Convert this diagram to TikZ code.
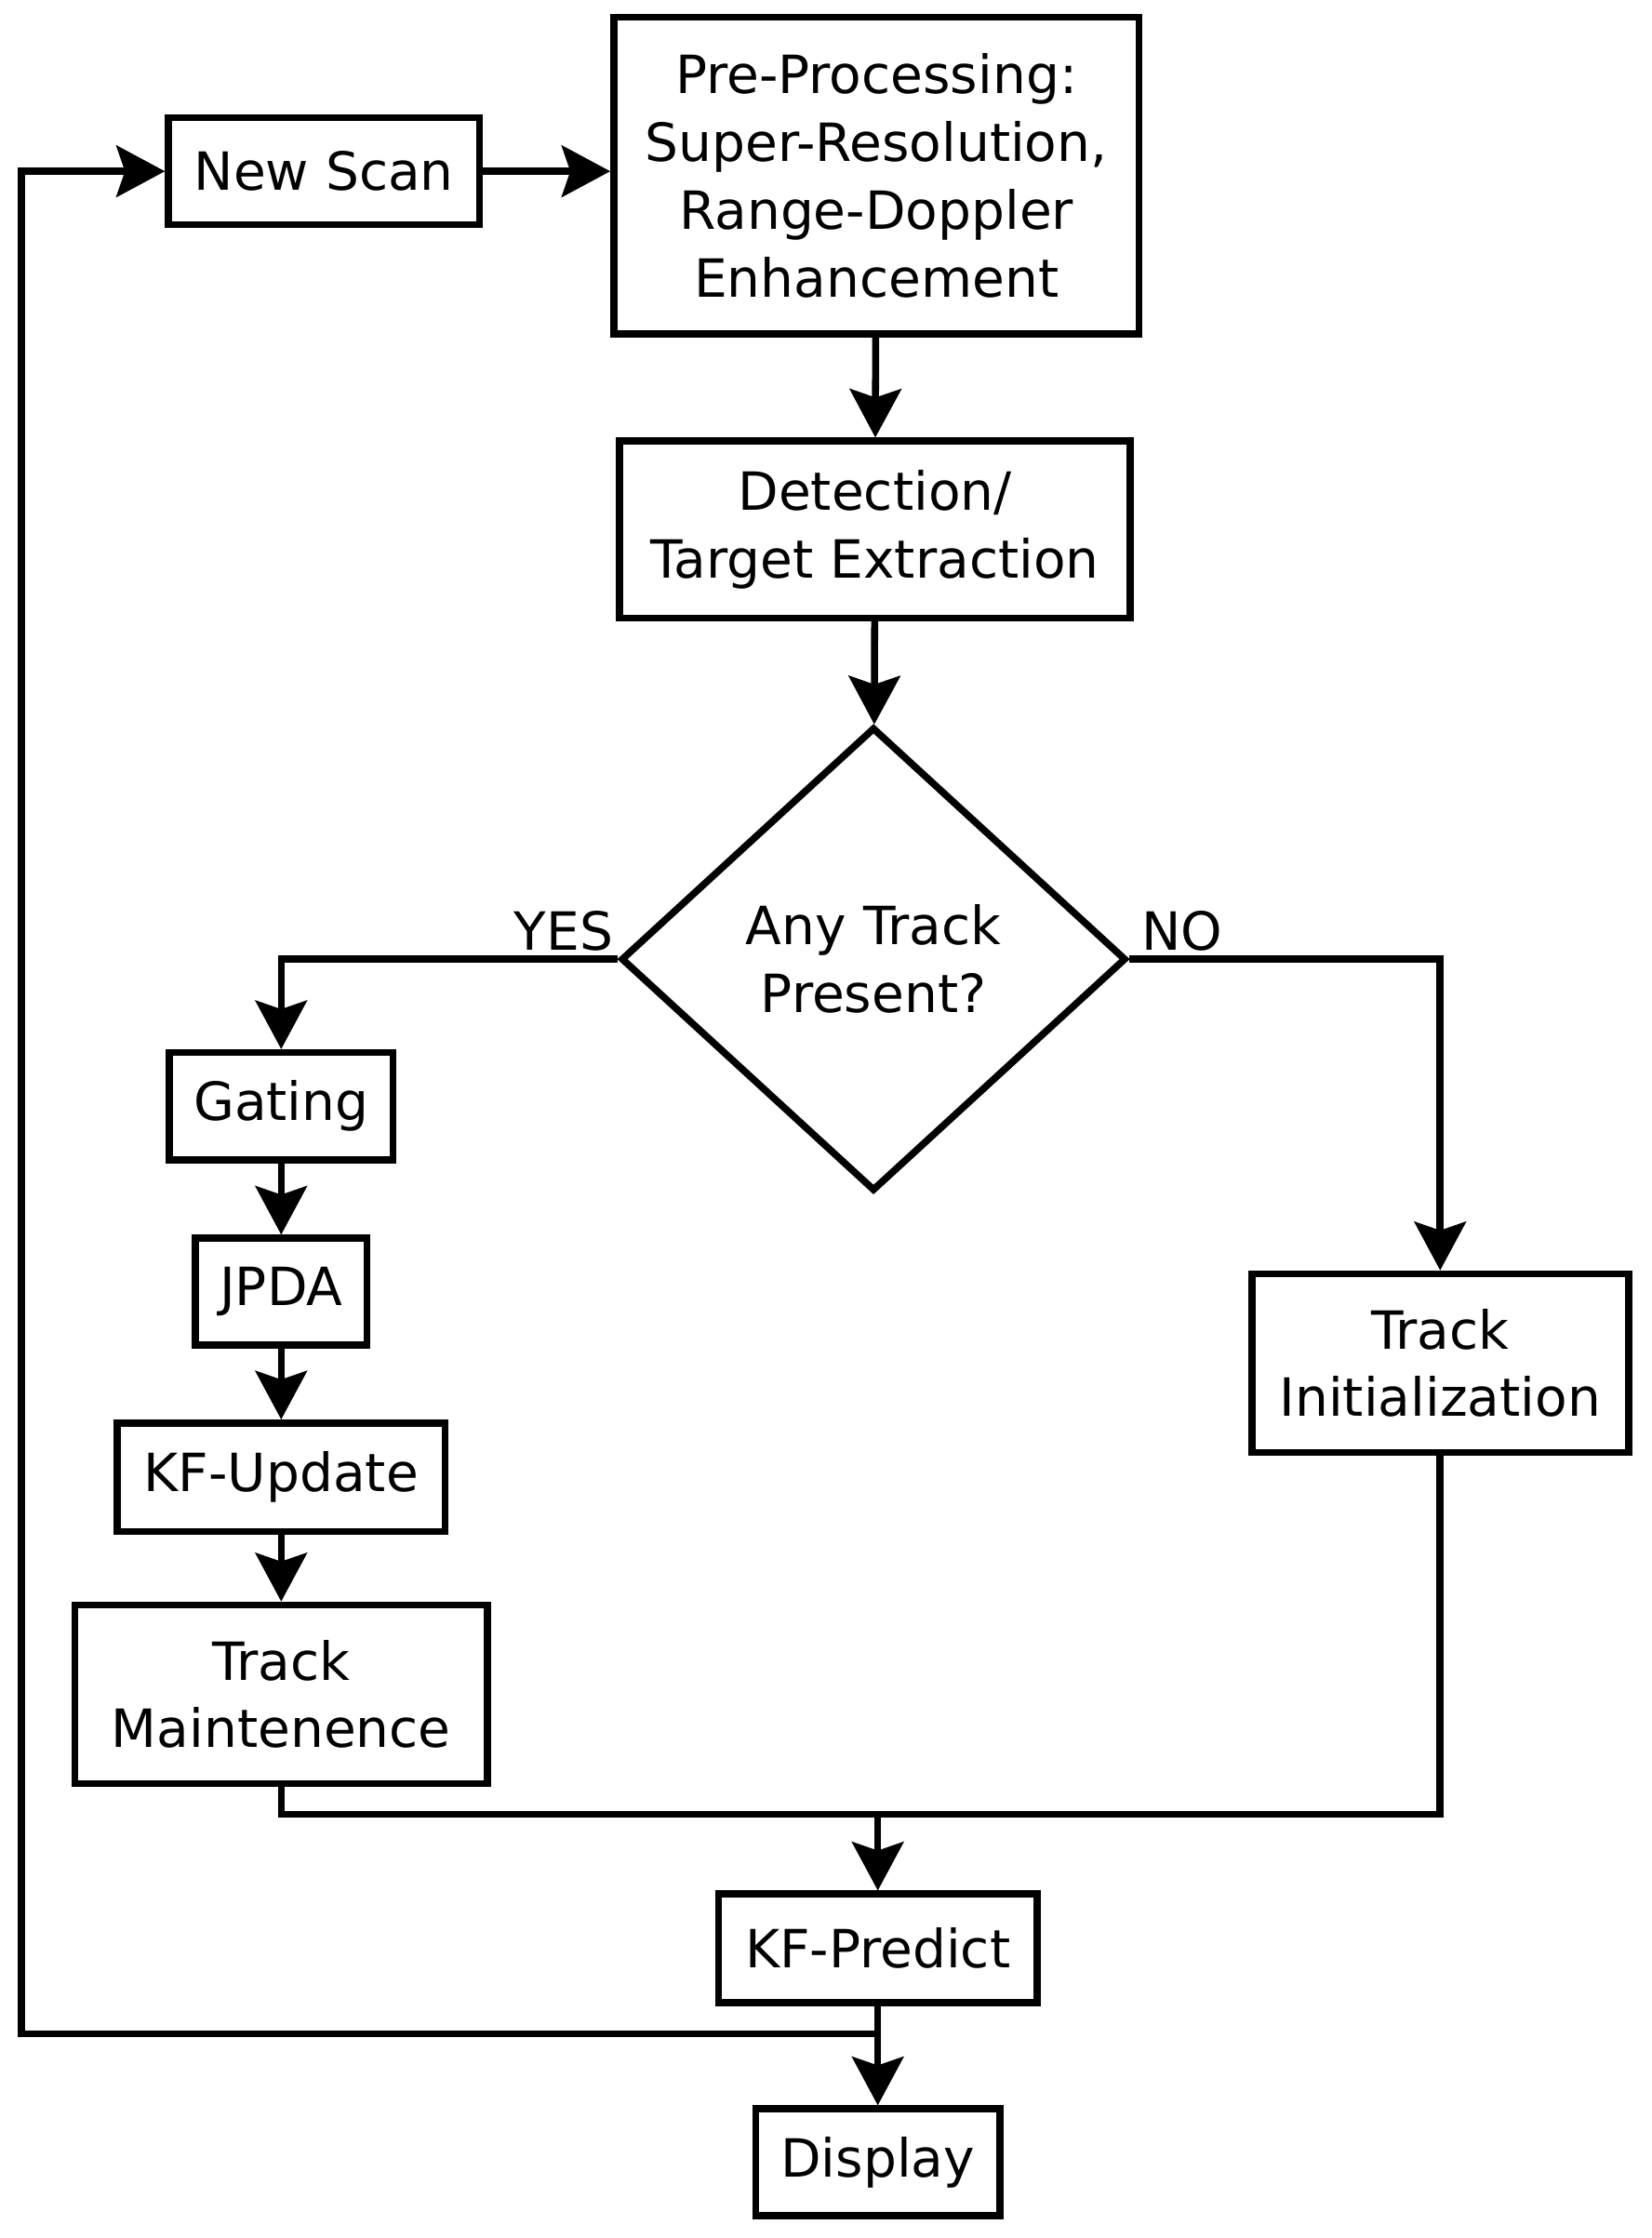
\documentclass[tikz,border=0pt]{standalone}
\usepackage{fontspec}
\setmainfont{DejaVu Sans}
\usetikzlibrary{arrows.meta,shapes.geometric}
\begin{document}
\begin{tikzpicture}[x=0.02cm,y=-0.02cm,
  every node/.style={font=\fontsize{21}{27}\selectfont, align=center, inner sep=0pt},
  box/.style={draw, line width=2.8pt},
  ln/.style={line width=2.8pt},
  ar/.style={ln, -{Stealth[length=0.68cm,width=0.72cm,inset=0.12cm]}}]
\useasboundingbox (0,0) rectangle (1157,1568);
\node[box,minimum width=4.36cm,minimum height=1.5cm] (scan) at (227,120) {New Scan};
\node[box,minimum width=7.36cm,minimum height=4.44cm] (pre) at (614,123) {Pre-Processing:\\Super-Resolution,\\Range-Doppler\\Enhancement};
\node[box,minimum width=7.16cm,minimum height=2.48cm] (det) at (613,371) {Detection/\\Target Extraction};
\node[draw,line width=2.8pt,diamond,aspect=1.089,minimum width=7.08cm,minimum height=6.5cm] (dia) at (612,672) {Any Track\\Present?};
\node[box,minimum width=3.14cm,minimum height=1.5cm] (gat) at (197,775) {Gating};
\node[box,minimum width=2.4cm,minimum height=1.5cm] (jpda) at (197,905) {JPDA};
\node[box,minimum width=4.6cm,minimum height=1.52cm] (kfu) at (197,1035) {KF-Update};
\node[box,minimum width=5.78cm,minimum height=2.5cm] (tm) at (197,1187) {Track\\Maintenence};
\node[box,minimum width=5.28cm,minimum height=2.5cm] (ti) at (1009,955) {Track\\Initialization};
\node[box,minimum width=4.46cm,minimum height=1.52cm] (kfp) at (615,1365) {KF-Predict};
\node[box,minimum width=3.42cm,minimum height=1.5cm] (disp) at (615,1515) {Display};
\node at (395,652) {YES};
\node at (828,652) {NO};
\coordinate (m) at (615,1271);
\coordinate (lp) at (615,1425);
\draw[ar] (scan) -- (pre.west |- scan);
\draw[ar] (pre) -- (det);
\draw[ar] (det) -- (dia);
\draw[ar] (dia.west) -| (gat.north);
\draw[ar] (dia.east) -| (ti.north);
\draw[ar] (gat) -- (jpda);
\draw[ar] (jpda) -- (kfu);
\draw[ar] (kfu) -- (tm);
\draw[ln] (tm.south) |- (m) -| (ti.south);
\draw[ar] (m) -- (kfp);
\draw[ar] (kfp) -- (disp);
\draw[ar] (lp) -- (15,1425) -- (15,120) -- (scan.west);
\end{tikzpicture}
\end{document}
